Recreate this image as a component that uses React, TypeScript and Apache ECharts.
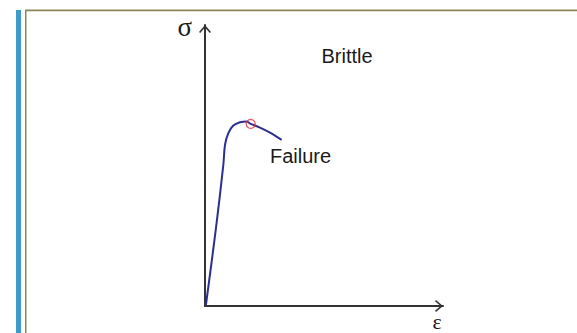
import React, { useEffect, useRef } from "react";
import * as echarts from "echarts";

// Stress–strain curve of a brittle material (axes in arbitrary units 0–100)
const strain = [0.4, 4.5, 7.7, 8.4, 9.8, 11.9, 14.7, 17.5, 19.2, 23.1, 27.3, 32.2];
const stress = [0.4, 27.0, 50.2, 57.3, 61.5, 64.2, 65.4, 65.7, 64.8, 63.5, 61.7, 59.1];
const failurePoint = [19.2, 64.8];
const annotations = ["Brittle", "Failure"];
const axisNames = ["ε", "σ"];

const chevron = "path://M0,7 L6,0 L12,7 L10.8,8 L6,2.4 L1.2,8 Z";

export default function App() {
  const ref = useRef<HTMLDivElement>(null);
  useEffect(() => {
    document.body.style.margin = "0";
    const chart = echarts.init(ref.current!, null, { renderer: "svg" });
    const axisStyle = {
      show: true,
      symbol: ["none", chevron],
      symbolSize: [12, 8],
      symbolOffset: [0, -4],
      lineStyle: { color: "#333333", width: 2 },
    };
    chart.setOption({
      animation: false,
      backgroundColor: "#ffffff",
      grid: { left: 205, top: 25, right: 134, bottom: 27, containLabel: false },
      xAxis: {
        type: "value",
        min: 0,
        max: 100,
        name: axisNames[0],
        nameLocation: "end",
        nameGap: -6,
        nameTextStyle: {
          fontFamily: "Liberation Serif",
          fontSize: 22,
          color: "#1a1a1a",
          align: "center",
          verticalAlign: "top",
          padding: [4, 0, 0, 0],
        },
        axisLine: axisStyle,
        axisTick: { show: false },
        axisLabel: { show: false },
        splitLine: { show: false },
      },
      yAxis: {
        type: "value",
        min: 0,
        max: 100,
        name: axisNames[1],
        nameLocation: "end",
        nameGap: -2,
        nameTextStyle: {
          fontFamily: "Liberation Serif",
          fontSize: 27,
          color: "#1a1a1a",
          align: "right",
          verticalAlign: "middle",
          padding: [0, 13, 0, 0],
        },
        axisLine: axisStyle,
        axisTick: { show: false },
        axisLabel: { show: false },
        splitLine: { show: false },
      },
      series: [
        {
          type: "line",
          data: strain.map((x, i) => [x, stress[i]]),
          smooth: 0.35,
          showSymbol: false,
          lineStyle: { color: "#2b2f91", width: 2 },
          silent: true,
        },
        {
          type: "scatter",
          data: [failurePoint],
          symbol: "circle",
          symbolSize: 9,
          itemStyle: { color: "rgba(0,0,0,0)", borderColor: "#e8303a", borderWidth: 1.3 },
          silent: true,
          z: 5,
        },
      ],
      graphic: [
        { type: "rect", shape: { x: 16, y: 10, width: 5, height: 323 }, style: { fill: "#3d9bc9" }, silent: true },
        { type: "rect", shape: { x: 25, y: 10, width: 1.5, height: 323 }, style: { fill: "#8b8559" }, silent: true },
        { type: "rect", shape: { x: 25, y: 9.5, width: 552, height: 1.8 }, style: { fill: "#8b8559" }, silent: true },
        {
          type: "text",
          x: 321.5,
          y: 56.4,
          style: { text: annotations[0], font: "20px 'Liberation Sans'", fill: "#1a1a1a", verticalAlign: "middle" },
          silent: true,
        },
        {
          type: "text",
          x: 270,
          y: 156.4,
          style: { text: annotations[1], font: "20px 'Liberation Sans'", fill: "#1a1a1a", verticalAlign: "middle" },
          silent: true,
        },
      ],
    });
    return () => chart.dispose();
  }, []);
  return <div ref={ref} style={{ width: 577, height: 333 }} />;
}
